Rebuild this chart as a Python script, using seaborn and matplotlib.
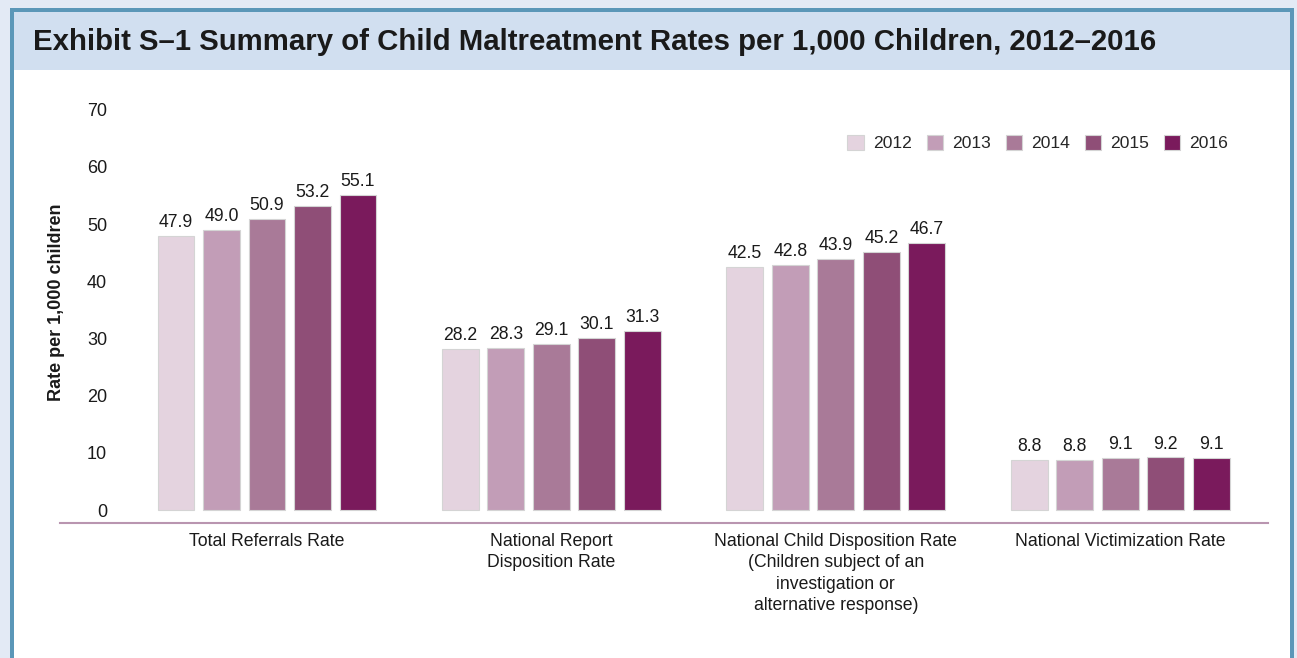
import pandas as pd
import numpy as np
import matplotlib
matplotlib.use("Agg")
import matplotlib.pyplot as plt
import seaborn as sns
from matplotlib.patches import Rectangle

# data
categories = ["Total Referrals Rate",
              "National Report\nDisposition Rate",
              "National Child Disposition Rate\n(Children subject of an\ninvestigation or\nalternative response)",
              "National Victimization Rate"]
years = ["2012", "2013", "2014", "2015", "2016"]
rate_2012 = [47.9, 28.2, 42.5, 8.8]
rate_2013 = [49.0, 28.3, 42.8, 8.8]
rate_2014 = [50.9, 29.1, 43.9, 9.1]
rate_2015 = [53.2, 30.1, 45.2, 9.2]
rate_2016 = [55.1, 31.3, 46.7, 9.1]
colors = ["#e4d3df", "#c29db7", "#a97a98", "#8f4e77", "#7a1a5c"]

rows = []
for yr, vals in zip(years, [rate_2012, rate_2013, rate_2014, rate_2015, rate_2016]):
    for c, v in zip(categories, vals):
        rows.append({"category": c, "year": yr, "rate": v})
df = pd.DataFrame(rows)

sns.set_style("white")
plt.rcParams['font.family'] = ['Liberation Sans', 'DejaVu Sans']

fig = plt.figure(figsize=(12.97, 6.58), dpi=100)
fig.patch.set_facecolor("#e3eaf5")
# frame: border, title band, white body
fig.patches.append(Rectangle((10/1297, 0), 1284/1297, 650/658, transform=fig.transFigure,
                             facecolor="#5b97b8", edgecolor="none", zorder=-3))
fig.patches.append(Rectangle((14/1297, 0), 1276/1297, 646/658, transform=fig.transFigure,
                             facecolor="white", edgecolor="none", zorder=-2))
fig.patches.append(Rectangle((14/1297, (658-70)/658), 1276/1297, 58/658, transform=fig.transFigure,
                             facecolor="#d1dff0", edgecolor="none", zorder=-1))
fig.text(33/1297, (658-42)/658, "Exhibit S\u20131 Summary of Child Maltreatment Rates per 1,000 Children, 2012\u20132016",
         fontsize=21.2, fontweight="bold", color="#1a1a1a", va="center", ha="left")

ax = fig.add_axes([60/1297, (658-523)/658, 1208/1297, 423/658])
ax.set_facecolor("none")
sns.barplot(data=df, x="category", y="rate", hue="year", palette=colors, ax=ax,
            gap=0.19, edgecolor="#d4d4d4", linewidth=0.8, saturation=1)

for cont in ax.containers:
    ax.bar_label(cont, fmt="%.1f", padding=3.5, fontsize=12.7, color="#1a1a1a")

ax.set_xlim(-0.728, 3.52)
ax.set_ylim(-2.27, 71.7)
ax.set_yticks(range(0, 71, 10))
ax.tick_params(axis="y", length=0, pad=-34, labelsize=13, labelcolor="#1a1a1a")
ax.tick_params(axis="x", length=0, pad=7, labelsize=12.7, labelcolor="#1a1a1a")
for lab in ax.get_xticklabels():
    lab.set_linespacing(1.34)
ax.set_xlabel("")
ax.set_ylabel("Rate per 1,000 children", fontsize=13, fontweight="bold", color="#1a1a1a")
ax.yaxis.set_label_coords(0.004, 0.521)
for s in ["left", "right", "top"]:
    ax.spines[s].set_visible(False)
ax.spines["bottom"].set_color("#b995b0")
ax.spines["bottom"].set_linewidth(1.5)

sns.move_legend(ax, "center right", bbox_to_anchor=(0.98, 0.898), ncol=5, frameon=False,
                title=None, fontsize=12.6, handlelength=0.95, handleheight=0.95,
                handletextpad=0.5, columnspacing=0.85)

fig.savefig("out.png", dpi=100)
